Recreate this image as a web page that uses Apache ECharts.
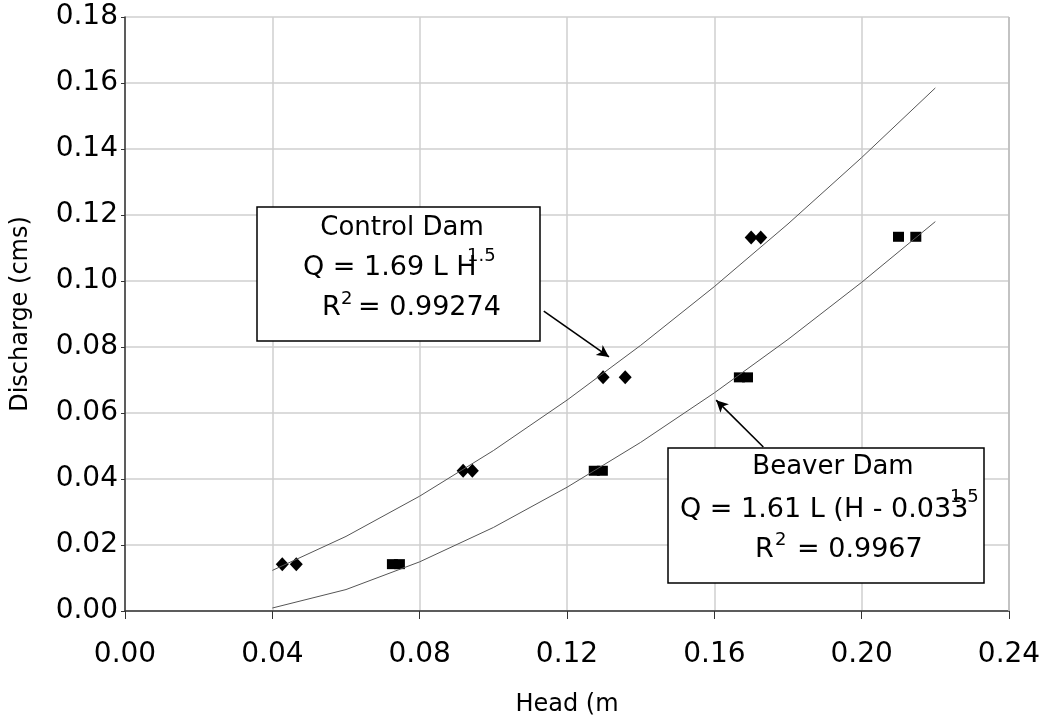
<!DOCTYPE html>
<html lang="en">
<head>
  <meta charset="UTF-8">
  <title>Head vs Discharge</title>
  <script src="https://cdn.jsdelivr.net/npm/echarts@6/dist/echarts.min.js"></script>
</head>
<style>
  * { margin: 0px; padding: 0px; }
  #chart { width: 1052px; height: 719px; background: #fff; }
</style>
<body>
  <div id="chart"></div>
</body>
<script>
  // measured points
  var controlH = [0.0427, 0.0465, 0.0918, 0.0943, 0.1298, 0.1358, 0.1700, 0.1726];
  var controlQ = [0.0142, 0.0142, 0.0425, 0.0425, 0.0708, 0.0708, 0.1132, 0.1132];
  var beaverH = [0.0726, 0.0745, 0.1274, 0.1296, 0.1668, 0.1690, 0.2100, 0.2147];
  var beaverQ = [0.0142, 0.0142, 0.0425, 0.0425, 0.0708, 0.0708, 0.1134, 0.1134];
  // fitted curves
  var fitH = [0.04, 0.06, 0.08, 0.10, 0.12, 0.14, 0.16, 0.18, 0.20, 0.22];
  var controlFit = [0.0123, 0.0226, 0.0348, 0.0486, 0.0639, 0.0805, 0.0983, 0.1173, 0.1374, 0.1585];
  var beaverFit = [0.0009, 0.0065, 0.0149, 0.0253, 0.0375, 0.0511, 0.0661, 0.0823, 0.0996, 0.1180];

  var FONT = 'DejaVu Sans';
  var zip = function (a, b) { return a.map(function (v, i) { return [v, b[i]]; }); };

  var chart = echarts.init(document.getElementById('chart'));

  var arrow = function (from, to) {
    return {
      silent: true,
      symbol: ['none', 'arrow'],
      symbolSize: [9, 12],
      label: { show: false },
      lineStyle: { color: '#000', width: 1.6, type: 'solid' },
      data: [[{ coord: from }, { coord: to }]]
    };
  };

  var txt = function (text, x, y, size, align) {
    return {
      type: 'text', x: x, y: y, z: 110,
      style: {
        text: text, fontFamily: FONT, fontSize: size, fill: '#000',
        align: align || 'left', verticalAlign: 'middle'
      }
    };
  };

  chart.setOption({
    animation: false,
    grid: { left: 125, right: 43, top: 17, bottom: 108, outerBoundsMode: 'none', containLabel: false },
    xAxis: {
      type: 'value', min: 0, max: 0.24, interval: 0.04,
      name: 'Head (m', nameLocation: 'middle', nameGap: 82,
      nameTextStyle: { fontFamily: FONT, fontSize: 24, color: '#000' },
      axisLine: { onZero: false, lineStyle: { color: '#333', width: 1.5 } },
      axisTick: { show: true, length: 8, inside: false, lineStyle: { color: '#333' } },
      axisLabel: {
        margin: 30, fontFamily: FONT, fontSize: 28, color: '#000',
        formatter: function (v) { return v.toFixed(2); }
      },
      splitLine: { show: true, lineStyle: { color: '#cfcfcf', width: 1.5 } }
    },
    yAxis: {
      type: 'value', min: 0, max: 0.18, interval: 0.02,
      name: 'Discharge (cms)', nameLocation: 'middle', nameGap: 92,
      nameTextStyle: { fontFamily: FONT, fontSize: 24, color: '#000' },
      axisLine: { show: true, lineStyle: { color: '#333', width: 1.5 } },
      axisTick: { show: true, length: 4, lineStyle: { color: '#333' } },
      axisLabel: {
        margin: 7, fontFamily: FONT, fontSize: 28, color: '#000',
        formatter: function (v) { return v.toFixed(2); }
      },
      splitLine: { show: true, lineStyle: { color: '#cfcfcf', width: 1.5 } }
    },
    series: [{
      name: 'Control fit', type: 'line', data: zip(fitH, controlFit),
      showSymbol: false, silent: true,
      lineStyle: { color: '#555', width: 1 },
      markLine: arrow([0.1137, 0.0909], [0.1314, 0.0770])
    }, {
      name: 'Beaver fit', type: 'line', data: zip(fitH, beaverFit),
      showSymbol: false, silent: true,
      lineStyle: { color: '#555', width: 1 },
      markLine: arrow([0.1733, 0.0497], [0.1605, 0.0639])
    }, {
      name: 'Control Dam', type: 'scatter', data: zip(controlH, controlQ),
      symbol: 'diamond', symbolSize: [13, 14],
      itemStyle: { color: '#000', opacity: 1 }
    }, {
      name: 'Beaver Dam', type: 'scatter', data: zip(beaverH, beaverQ),
      symbol: 'rect', symbolSize: [11, 10],
      itemStyle: { color: '#000', opacity: 1 }
    }],
    graphic: [
      // right frame edge
      { type: 'line', z: 5, shape: { x1: 1009, y1: 17, x2: 1009, y2: 611 }, style: { stroke: '#bbb', lineWidth: 1.5 } },
      // Control Dam box
      { type: 'rect', z: 100, shape: { x: 257, y: 207, width: 283, height: 134 },
        style: { fill: '#fff', stroke: '#000', lineWidth: 1.5 } },
      txt('Control Dam', 402, 228, 26, 'center'),
      txt('Q = 1.69 L H', 303, 268, 27),
      txt('1.5', 467, 256, 18),
      txt('R', 322, 308, 27),
      txt('2', 341, 299, 18),
      txt('= 0.99274', 358, 308, 27),
      // Beaver Dam box
      { type: 'rect', z: 100, shape: { x: 668, y: 448, width: 316, height: 135 },
        style: { fill: '#fff', stroke: '#000', lineWidth: 1.5 } },
      txt('Beaver Dam', 833, 467, 26, 'center'),
      txt('Q = 1.61 L (H - 0.033', 680, 510, 27),
      txt('1.5', 950, 497, 18),
      txt('R', 755, 550, 27),
      txt('2', 775, 540, 18),
      txt('= 0.9967', 797, 550, 27)
    ]
  });
</script>
</html>
